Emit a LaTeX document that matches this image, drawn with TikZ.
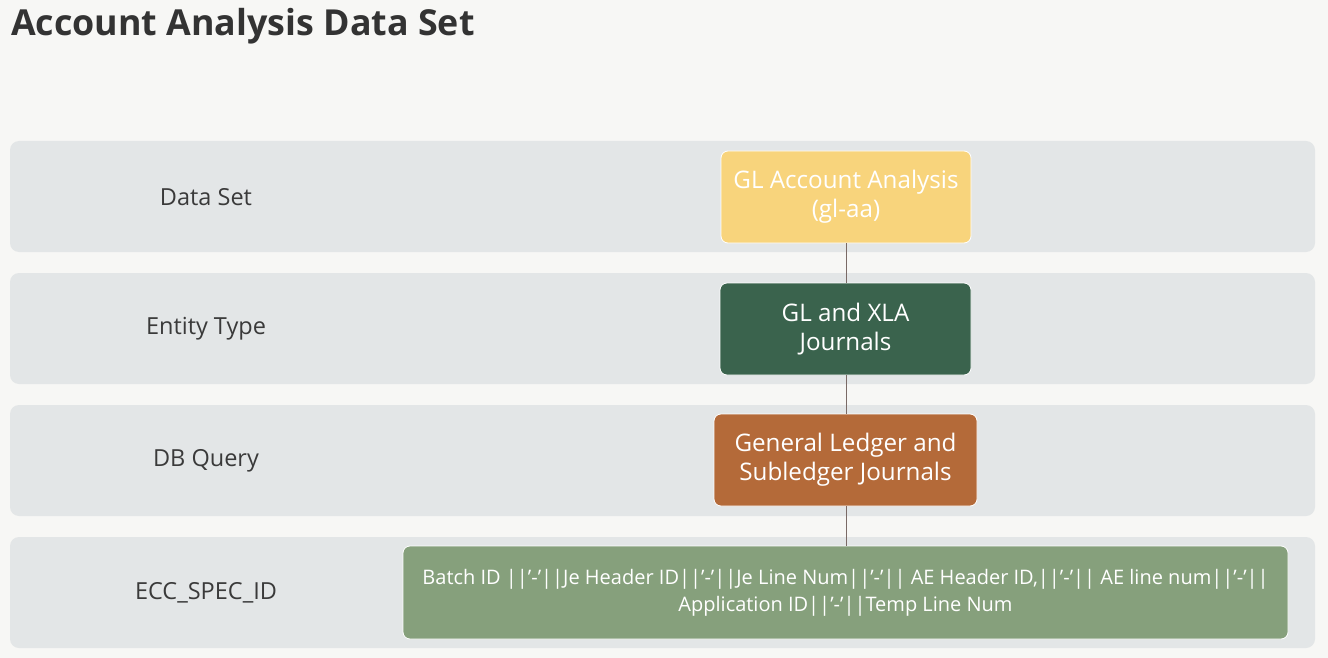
\documentclass[tikz,border=0pt]{standalone}
\usepackage{fontspec}
\setmainfont{Open Sans}
\usepackage{graphicx}
\definecolor{bgc}{HTML}{F7F7F5}
\definecolor{bandc}{HTML}{E3E6E7}
\definecolor{titlec}{HTML}{333333}
\definecolor{labc}{HTML}{3A3A3A}
\definecolor{yel}{HTML}{F8D47C}
\definecolor{grn}{HTML}{3A634D}
\definecolor{org}{HTML}{B46A39}
\definecolor{sage}{HTML}{86A07C}
\definecolor{linec}{HTML}{7A6A66}
\tikzset{
  band/.style={fill=bandc, rounded corners=9pt, draw=none},
  rowlabel/.style={text=labc, font=\fontsize{23.5}{28}\selectfont, anchor=center},
  boxnode/.style={rounded corners=7pt, draw=white, line width=0.8pt, text=white, align=center, font=\fontsize{24.2}{29}\selectfont, inner sep=0pt},
  conn/.style={draw=linec, line width=0.8pt}
}
\begin{document}
\begin{tikzpicture}[x=1pt,y=-1pt]
\useasboundingbox (0,0) rectangle (1328,658);
\fill[bgc] (0,0) rectangle (1328,658);
\node[anchor=base west, text=titlec, font=\fontsize{35.8}{42}\selectfont\bfseries, inner sep=0pt] (title) at (11,36) {Account Analysis Data Set};
% bands
\fill[band] (10,141) rectangle (1315,252);
\fill[band] (10,273) rectangle (1315,384);
\fill[band] (10,405) rectangle (1315,516);
\fill[band] (10,537) rectangle (1315,648);
\node[rowlabel] (l1) at (206,197) {Data Set};
\node[rowlabel] (l2) at (206,329) {Entity Type};
\node[rowlabel] (l3) at (206,461) {DB Query};
\node[rowlabel] (l4) at (206,593) {ECC\_SPEC\_ID};
% boxes
\node[boxnode, fill=yel, minimum width=250pt, minimum height=92pt] (b1) at (846,197) {GL Account Analysis\\(gl-aa)};
\node[boxnode, fill=grn, minimum width=251pt, minimum height=92pt] (b2) at (845.5,329) {GL and XLA\\Journals};
\node[boxnode, fill=org, minimum width=263pt, minimum height=92pt] (b3) at (845.5,460) {General Ledger and\\Subledger Journals};
\node[boxnode, fill=sage, minimum width=885pt, minimum height=93pt, font=\fontsize{20}{27}\selectfont] (b4) at (845.5,592.5) {Batch ID ||’-’||Je Header ID||’-’||Je Line Num||’-’|| AE Header ID,||’-’|| AE line num||’-’||\\Application ID||’-’||Temp Line Num};
% connectors
\draw[conn] (b1.south -| 846,0) -- (b2.north -| 846,0);
\draw[conn] (b2.south -| 846,0) -- (b3.north -| 846,0);
\draw[conn] (b3.south -| 846,0) -- (b4.north -| 846,0);
\end{tikzpicture}
\end{document}
